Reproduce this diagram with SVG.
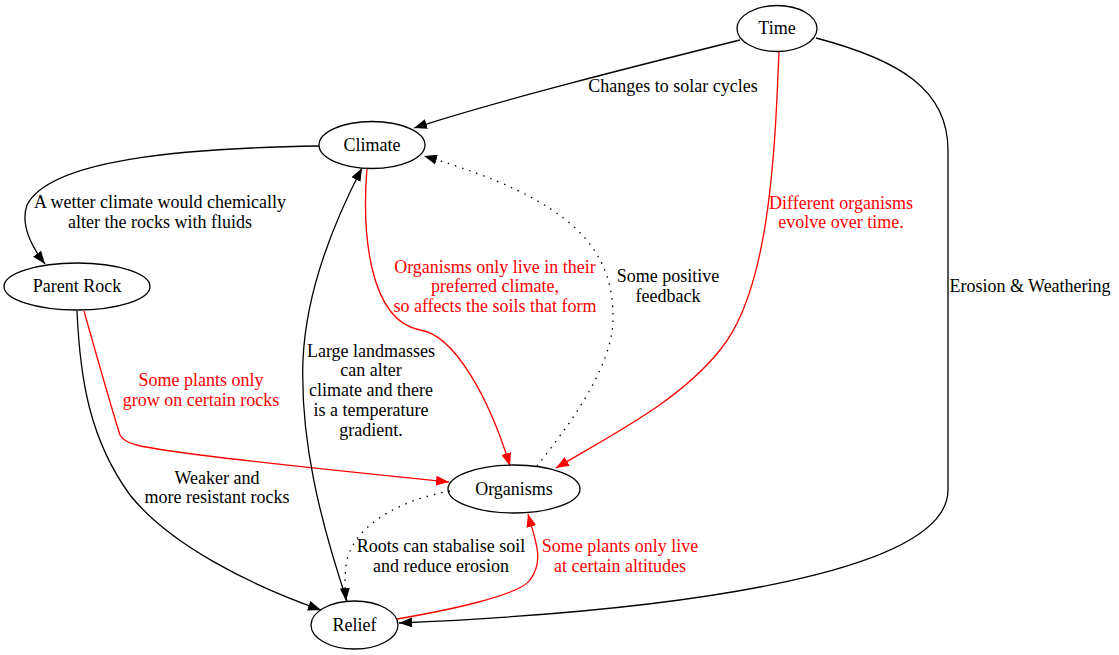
<svg xmlns="http://www.w3.org/2000/svg" width="1119" height="655" viewBox="0 0 1119 655">
<style>
  text { font-family: "Liberation Serif", "Times New Roman", serif; font-size: 18px; text-anchor: middle; }
  .red { fill: #ff0000; }
  .node ellipse { fill: none; stroke: #000; stroke-width: 1.3; }
  .e { fill: none; stroke: #000; stroke-width: 1.3; }
  .er { fill: none; stroke: #ff0000; stroke-width: 1.3; }
  .dot { stroke-dasharray: 1.5 6; }
</style>
<defs>
  <marker id="ab" markerUnits="userSpaceOnUse" markerWidth="13" markerHeight="10" refX="13" refY="5" orient="auto">
    <path d="M0,0 L13,5 L0,10 z" fill="#000"/>
  </marker>
  <marker id="ar" markerUnits="userSpaceOnUse" markerWidth="13" markerHeight="10" refX="13" refY="5" orient="auto">
    <path d="M0,0 L13,5 L0,10 z" fill="#ff0000"/>
  </marker>
</defs>
<rect width="1119" height="655" fill="#fff"/>
<g id="connectors">
  <path class="e" d="M740,40 C640,65 500,100 414,128" marker-end="url(#ab)"/>
  <text x="673" y="92">Changes to solar cycles</text>

  <path class="e" d="M319,146 C180,148 50,160 27,205 C20,225 32,247 45,264" marker-end="url(#ab)"/>
  <text x="160" y="208">A wetter climate would chemically</text>
  <text x="160" y="228">alter the rocks with fluids</text>

  <path class="er" d="M367,168 C362,230 368,320 420,330 C455,335 490,400 510,466" marker-end="url(#ar)"/>
  <text class="red" x="495" y="273">Organisms only live in their</text>
  <text class="red" x="495" y="292">preferred climate,</text>
  <text class="red" x="495" y="312">so affects the soils that form</text>

  <path class="e dot" d="M537,466 C565,430 612,370 613,320 C614,250 575,200 424,156" marker-end="url(#ab)"/>
  <text x="668" y="282">Some positive</text>
  <text x="668" y="302">feedback</text>

  <path class="er" d="M779,51 C775,150 770,290 720,350 C680,400 620,430 556,468" marker-end="url(#ar)"/>
  <text class="red" x="841" y="209">Different organisms</text>
  <text class="red" x="841" y="228">evolve over time.</text>

  <path class="e" d="M816,38 C900,60 948,90 948,150 L948,490 C948,570 700,610 399,623" marker-end="url(#ab)"/>
  <text x="1030" y="292">Erosion &amp; Weathering</text>

  <path class="er" d="M84,311 C95,350 112,410 120,435 C125,445 140,447 200,455 C280,465 380,475 449,482" marker-end="url(#ar)"/>
  <text class="red" x="201" y="386">Some plants only</text>
  <text class="red" x="201" y="406">grow on certain rocks</text>

  <path class="e" d="M77,311 C80,380 90,440 130,495 C170,545 250,585 321,610" marker-end="url(#ab)"/>
  <text x="217" y="484">Weaker and</text>
  <text x="217" y="503">more resistant rocks</text>

  <path class="e" d="M347,601 C320,520 300,440 303,360 C306,290 335,220 362,168" marker-end="url(#ab)"/>
  <text x="371" y="357">Large landmasses</text>
  <text x="371" y="376">can alter</text>
  <text x="371" y="396">climate and there</text>
  <text x="371" y="416">is a temperature</text>
  <text x="371" y="436">gradient.</text>

  <path class="e dot" d="M450,491 C400,500 355,525 347,560 C344,575 345,590 346,601" marker-end="url(#ab)"/>
  <text x="441" y="552">Roots can stabalise soil</text>
  <text x="441" y="572">and reduce erosion</text>

  <path class="er" d="M397,619 C450,610 520,595 530,580 C545,560 535,540 528,514" marker-end="url(#ar)"/>
  <text class="red" x="620" y="552">Some plants only live</text>
  <text class="red" x="620" y="572">at certain altitudes</text>
</g>
<g id="node-time" class="node">
  <ellipse cx="777" cy="28.5" rx="40" ry="23"/>
  <text x="777" y="34">Time</text>
</g>
<g id="node-climate" class="node">
  <ellipse cx="372" cy="145" rx="53" ry="23.5"/>
  <text x="372" y="150.5">Climate</text>
</g>
<g id="node-parent-rock" class="node">
  <ellipse cx="77" cy="286.5" rx="73" ry="23.5"/>
  <text x="77" y="292">Parent Rock</text>
</g>
<g id="node-organisms" class="node">
  <ellipse cx="514" cy="489" rx="66" ry="24"/>
  <text x="514" y="494.5">Organisms</text>
</g>
<g id="node-relief" class="node">
  <ellipse cx="354.5" cy="625" rx="43.5" ry="24"/>
  <text x="354.5" y="630.5">Relief</text>
</g>
</svg>
